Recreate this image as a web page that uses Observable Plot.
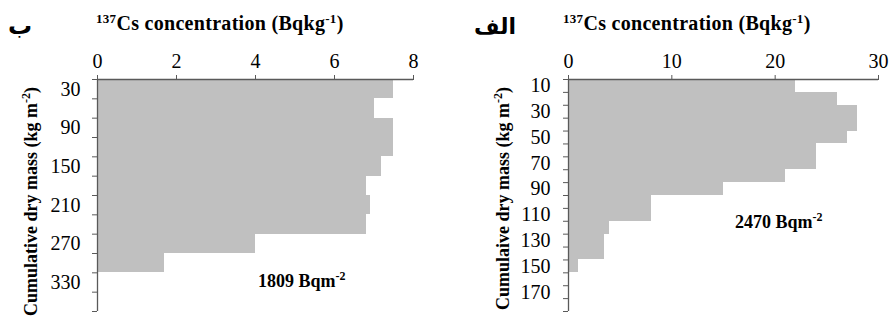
<!DOCTYPE html>
<html>
<head>
<meta charset="utf-8">
<script src="https://cdn.jsdelivr.net/npm/d3@7"></script>
<script src="https://cdn.jsdelivr.net/npm/@observablehq/plot@0.6"></script>
<style>
  html, body { margin: 0; padding: 0; background: #fff; }
  #wrap { position: relative; width: 889px; height: 320px; overflow: hidden; }
  #wrap > svg { position: absolute; top: 0; }
</style>
</head>
<body>
<div id="wrap"></div>
<script>
// ---- data ----
const leftMass = [30, 60, 90, 120, 150, 180, 210, 240, 270, 300, 330, 360];
const leftCs = [7.5, 7.0, 7.5, 7.5, 7.2, 6.8, 6.9, 6.8, 4.0, 1.7, 0, 0];
const leftTicks = [0, 2, 4, 6, 8];
const leftTotal = "1809 Bqm";
const leftTag = "ب";

const rightMass = [10, 20, 30, 40, 50, 60, 70, 80, 90, 100, 110, 120, 130, 140, 150, 160, 170, 180];
const rightCs = [22, 26, 28, 28, 27, 24, 24, 21, 15, 8, 8, 4, 3.5, 3.5, 1, 0, 0, 0];
const rightTicks = [0, 10, 20, 30];
const rightTotal = "2470 Bqm";
const rightTag = "الف";

const xTitle = ["137", "Cs concentration (Bqkg", "-1", ")"];
const leftYTitle = ["Cumulative dry mass (kg m", "-2", ")"];
const rightYTitle = ["Cumulaive dry mass (kg m", "-2", ")"];

const AXIS = "#595959";
const BAR = "#c0c0c0";
const serif = "'Liberation Serif', 'Times New Roman', serif";

function panel(mass, cs, xticks, opts) {
  const n = mass.length;
  const rows = mass.map((m, i) => ({m, cs: cs[i], i}));
  const labelIdx = d3.range(0, n, 2).map(i => i + 0.5);
  return Plot.plot({
    width: opts.width,
    height: 320,
    marginTop: 79,
    marginBottom: 9,
    marginLeft: opts.marginLeft,
    marginRight: opts.marginRight,
    style: {fontFamily: serif, fontSize: "20px", color: "#000", background: "transparent"},
    x: {domain: [xticks[0], xticks[xticks.length - 1]]},
    y: {domain: [0, n], reverse: true},
    marks: [
      Plot.rectX(rows, {x1: 0, x2: "cs", y1: "i", y2: d => d.i + 1, fill: BAR, inset: 0, shapeRendering: "crispEdges"}),
      Plot.ruleY([0], {stroke: AXIS, strokeWidth: 1.3}),
      Plot.ruleX([0], {stroke: AXIS, strokeWidth: 1.3}),
      Plot.axisX({anchor: "top", ticks: xticks, tickSize: 5, tickPadding: 7, stroke: AXIS, fill: "#000", label: null}),
      Plot.axisY({anchor: "left", ticks: d3.range(0, n + 1), tickSize: 5, tickFormat: () => "", stroke: AXIS, label: null}),
      Plot.axisY({anchor: "left", ticks: labelIdx, tickSize: 0, tickPadding: opts.labelPad, tickFormat: v => mass[Math.floor(v)], fill: "#000", label: null})
    ]
  });
}

const wrap = document.getElementById("wrap");
const left = panel(leftMass, leftCs, leftTicks, {width: 444, marginLeft: 97, marginRight: 31, labelPad: 17});
left.style.left = "0px";
wrap.appendChild(left);
const right = panel(rightMass, rightCs, rightTicks, {width: 445, marginLeft: 124, marginRight: 11, labelPad: 18});
right.style.left = "444px";
wrap.appendChild(right);

// ---- overlay texts (titles, tags, annotations) ----
const ov = d3.select(wrap).append("svg")
  .attr("width", 889).attr("height", 320)
  .style("left", "0px");

function richText(g, parts, supIdx, size, spacing) {
  const t = g.append("text")
    .attr("font-family", serif)
    .attr("font-weight", "bold")
    .attr("font-size", size)
    .attr("letter-spacing", spacing || 0)
    .attr("fill", "#000");
  parts.forEach((p, k) => {
    const ts = t.append("tspan").text(p);
    if (supIdx.includes(k)) {
      ts.attr("font-size", Math.round(size * 0.65)).attr("baseline-shift", "super");
    }
  });
  return t;
}

// x titles
richText(ov.append("g").attr("transform", "translate(96,30)"), xTitle, [0, 2], 20, 0.3);
richText(ov.append("g").attr("transform", "translate(563,30)"), xTitle, [0, 2], 20, 0.3);

// y titles (rotated)
richText(ov.append("g").attr("transform", "translate(37,87) rotate(-90)"), leftYTitle, [1], 18).attr("text-anchor", "end");
richText(ov.append("g").attr("transform", "translate(509,87) rotate(-90)"), rightYTitle, [1], 18).attr("text-anchor", "end");

// annotations
richText(ov.append("g").attr("transform", "translate(258,287)"), [leftTotal, "-2"], [1], 18);
richText(ov.append("g").attr("transform", "translate(735,228)"), [rightTotal, "-2"], [1], 18);

// panel tags (Arabic)
ov.append("text").attr("x", 20).attr("y", 34).attr("text-anchor", "middle")
  .attr("font-family", "'DejaVu Sans', sans-serif").attr("font-weight", "bold").attr("font-size", 24)
  .text(leftTag);
ov.append("text").attr("x", 495).attr("y", 34).attr("text-anchor", "middle")
  .attr("font-family", "'DejaVu Sans', sans-serif").attr("font-weight", "bold").attr("font-size", 22)
  .text(rightTag);
</script>
</body>
</html>
